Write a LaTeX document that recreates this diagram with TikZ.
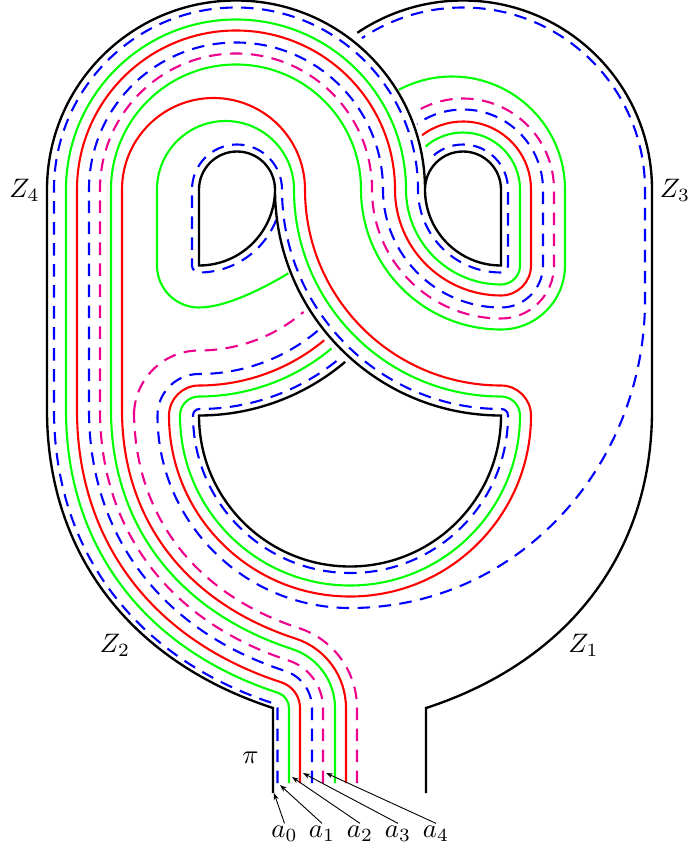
\documentclass[tikz,border=0pt]{standalone}
\usetikzlibrary{arrows.meta}
\definecolor{mag}{rgb}{0.925,0,0.549}
\definecolor{grn}{rgb}{0,1,0}
\tikzset{
  blk/.style={draw=black,line width=2.35pt},
  sol/.style={line width=2.1pt},
  dsh/.style={line width=2.1pt,dash pattern=on 12.5pt off 8.5pt},
  lab/.style={scale=2.67,anchor=base,inner sep=0.6pt},
  ptr/.style={line width=0.9pt,-{Stealth[length=7pt,width=5pt]}}
}
% bottom strand: straight part, corner, curve up the left side
\newcommand\lowcurve[2]{({273+#1},-783) -- ({273+#1},-708) arc[start angle=0,end angle=72,radius=#1] to[out=162,in=-90] ({47+#2},-410)}
% strand running over the big left arc and around the right teardrop
\newcommand\wrapstrand[4]{\lowcurve{#1}{#2} -- ({47+#2},-189.5)
  arc[start angle=180,end angle=0,radius={189-#2}]
  arc[start angle=180,end angle=270,radius={76+#2}]
  arc[start angle=270,end angle=360,radius=#2]
  -- ++(0,76) arc[start angle=0,end angle=#3,radius=#4]}
\begin{document}
\begin{tikzpicture}[x=1pt,y=1pt]
\useasboundingbox (0,0) rectangle (689,-850);
% wrap-around strands
\draw[dsh,blue] \wrapstrand{4.5}{7}{139}{45};
\draw[sol,grn] \wrapstrand{16}{19}{131}{57};
\draw[sol,red] \wrapstrand{27}{30}{127}{68};
\draw[dsh,blue] \wrapstrand{39}{42}{125}{80};
\draw[dsh,mag] \wrapstrand{50}{53}{123}{91};
\draw[sol,grn] \wrapstrand{62}{64}{118}{113};
% inner red
\draw[sol,red] \lowcurve{73}{75} -- (122,-189.5)
  arc[start angle=180,end angle=0,radius=91.5]
  arc[start angle=180,end angle=270,radius=196]
  arc[start angle=90,end angle=0,radius=30]
  arc[start angle=0,end angle=-180,radius=181]
  arc[start angle=180,end angle=90,radius=30]
  arc[start angle=-90,end angle=-50.3,radius=196];
% magenta hook
\draw[dsh,mag] \lowcurve{84}{87} -- (134,-415.5)
  arc[start angle=180,end angle=90,radius=65]
  arc[start angle=-90,end angle=-49.5,radius=161];
% outer blue, lower disc then the right band
\draw[dsh,blue] ([shift={(199,-189.5)}]-50:184.5)
  arc[start angle=-50,end angle=-90,radius=184.5]
  arc[start angle=90,end angle=180,radius=41.5]
  arc[start angle=180,end angle=270,radius=192.5]
  to[out=0,in=-90] (645,-300) -- (645,-189.5)
  arc[start angle=0,end angle=123.7,radius=182];
% inner green
\draw[sol,grn] (288.3,-273.3) .. controls (264,-288) and (226,-307.5) .. (199,-307.5)
  arc[start angle=270,end angle=180,radius=42]
  -- (157,-189.5)
  arc[start angle=180,end angle=0,radius=68.5]
  arc[start angle=180,end angle=270,radius=207]
  arc[start angle=90,end angle=0,radius=19]
  arc[start angle=0,end angle=-180,radius=170]
  arc[start angle=180,end angle=90,radius=19]
  arc[start angle=-90,end angle=-50.2,radius=207];
% inner blue
\draw[dsh,blue] ([shift={(199,-189.5)}]-21.4:83)
  arc[start angle=-21.4,end angle=-90,radius=83]
  arc[start angle=270,end angle=180,radius=7]
  -- (192,-189.5)
  arc[start angle=180,end angle=0,radius=45]
  arc[start angle=180,end angle=270,radius=219.5]
  arc[start angle=90,end angle=0,radius=6.5]
  arc[start angle=0,end angle=-180,radius=157.5]
  arc[start angle=180,end angle=90,radius=6.5]
  arc[start angle=-90,end angle=-50,radius=219.5];
% black boundary
\draw[blk] (273,-793) -- (273,-708) to[out=162,in=-90] (47,-410) -- (47,-189.5)
  arc[start angle=180,end angle=0,radius=189]
  arc[start angle=180,end angle=270,radius=76]
  -- (501,-189.5)
  arc[start angle=0,end angle=180,radius=38];
\draw[blk] (426,-793) -- (426,-708) to[out=18,in=-90] (652,-410) -- (652,-189.5)
  arc[start angle=0,end angle=124,radius=189];
\draw[blk] ([shift={(199,-189.5)}]-49.7:226)
  arc[start angle=-49.7,end angle=-90,radius=226]
  -- (199,-415.5)
  arc[start angle=180,end angle=360,radius=151]
  arc[start angle=270,end angle=180,radius=226]
  arc[start angle=0,end angle=180,radius=38]
  -- (199,-265.5)
  arc[start angle=270,end angle=360,radius=76];
% labels
\node[lab] (z4) at (24.5,-197) {$Z_4$};
\node[lab] (z3) at (675,-197) {$Z_3$};
\node[lab] (z2) at (115,-652) {$Z_2$};
\node[lab] (z1) at (583.5,-652) {$Z_1$};
\node[lab] (pi) at (250.5,-763) {$\pi$};
\node[lab] (a0) at (284.5,-837) {$a_0$};
\node[lab] (a1) at (322,-837) {$a_1$};
\node[lab] (a2) at (360,-837) {$a_2$};
\node[lab] (a3) at (398,-837) {$a_3$};
\node[lab] (a4) at (436,-837) {$a_4$};
\coordinate (t0) at (274,-793);
\coordinate (t1) at (280,-785);
\coordinate (t2) at (292,-777);
\coordinate (t3) at (303,-773);
\coordinate (t4) at (326,-773);
\draw[ptr] (a0.north) -- (t0);
\draw[ptr] (a1.north) -- (t1);
\draw[ptr] (a2.north) -- (t2);
\draw[ptr] (a3.north) -- (t3);
\draw[ptr] (a4.north) -- (t4);
\end{tikzpicture}
\end{document}
